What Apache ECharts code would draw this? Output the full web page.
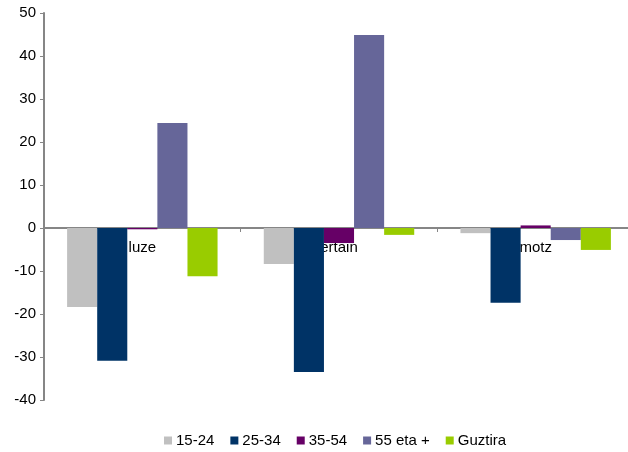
<!DOCTYPE html>
<html><head><meta charset="utf-8">
<script src="https://cdn.jsdelivr.net/npm/echarts@6/dist/echarts.min.js"></script>
<style>html,body{margin:0;padding:0;background:#fff}#c{width:628px;height:452px}</style>
</head><body><div id="c"></div>
<script>
const categories = ['luze', 'ertain', 'motz'];
const seriesNames = ['15-24', '25-34', '35-54', '55 eta +', 'Guztira'];
const s1524 = [-18.4, -8.4, -1.2];
const s2534 = [-30.9, -33.5, -17.4];
const s3554 = [-0.3, -3.5, 0.6];
const s55 = [24.4, 44.9, -2.8];
const sGuz = [-11.2, -1.6, -5.1];
const yTicks = {min: -40, max: 50, interval: 10};
const colors = ['#C0C0C0', '#003366', '#660066', '#666699', '#99CC00'];
const data = [s1524, s2534, s3554, s55, sGuz];
const FONT = 'Liberation Sans, Arial, sans-serif';

const chart = echarts.init(document.getElementById('c'), null, {renderer: 'canvas'});
const option = {
  animation: false,
  textStyle: {fontFamily: FONT},
  grid: {left: 44, width: 590, top: 13, height: 387, containLabel: false, outerBoundsMode: 'none'},
  legend: {
    top: 428, left: 159, itemWidth: 8, itemHeight: 8, itemGap: 16,
    icon: 'rect',
    textStyle: {fontSize: 15, color: '#000', fontFamily: FONT, padding: [0,0,0,-1]},
    data: seriesNames
  },
  xAxis: {
    type: 'category', data: categories,
    offset: 0,
    axisLine: {onZero: false, lineStyle: {color: '#868686', width: 2}},
    axisTick: {show: true, length: 4, inside: false, lineStyle: {color: '#868686'}},
    axisLabel: {color: '#000', fontSize: 15, margin: 12, fontFamily: FONT},
    splitLine: {show: false}
  },
  yAxis: {
    type: 'value', min: yTicks.min, max: yTicks.max, interval: yTicks.interval,
    axisLine: {show: true, lineStyle: {color: '#868686', width: 2}},
    axisTick: {show: true, length: 4, lineStyle: {color: '#868686'}},
    axisLabel: {color: '#000', fontSize: 15, margin: 8, fontFamily: FONT},
    splitLine: {show: false}
  },
  series: seriesNames.map((n, i) => ({
    name: n, type: 'bar', data: data[i],
    barGap: '0%', barCategoryGap: '23.5%',
    itemStyle: {color: colors[i]}
  }))
};
chart.setOption(option);
// move the category axis up to the value 0
const yZero = chart.convertToPixel({yAxisIndex: 0}, 0);
const yMin = chart.convertToPixel({yAxisIndex: 0}, yTicks.min);
chart.setOption({xAxis: {offset: -(yMin - yZero)}});
</script></body></html>
